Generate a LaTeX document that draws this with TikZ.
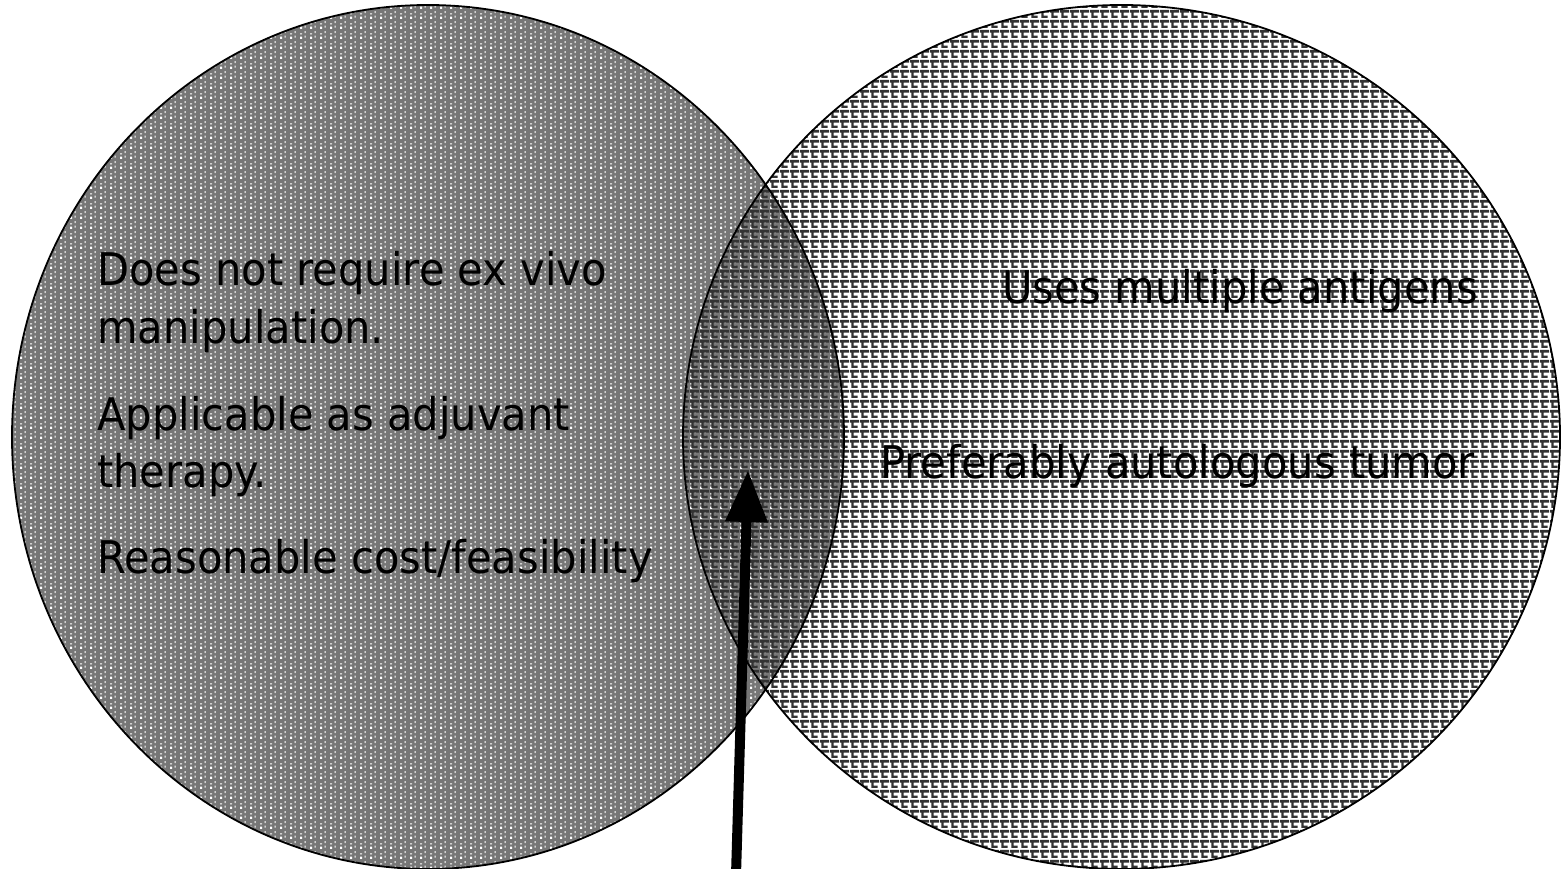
\documentclass[tikz,border=0pt]{standalone}
\usepackage{fontspec}
\setmainfont{DejaVu Sans}[FakeStretch=0.925]
\usetikzlibrary{patterns,arrows.meta}
\definecolor{leftgray}{HTML}{767676}
\definecolor{lpat}{HTML}{333333}
\pgfdeclarepatternformonly{dotcols}{\pgfqpoint{0pt}{0pt}}{\pgfqpoint{10pt}{10pt}}{\pgfqpoint{10pt}{10pt}}{
  \pgfpathrectangle{\pgfqpoint{0pt}{0pt}}{\pgfqpoint{2.4pt}{2.6pt}}
  \pgfpathrectangle{\pgfqpoint{0pt}{5pt}}{\pgfqpoint{2.4pt}{1.2pt}}
  \pgfpathrectangle{\pgfqpoint{5pt}{1.5pt}}{\pgfqpoint{1.1pt}{2.2pt}}
  \pgfpathrectangle{\pgfqpoint{5pt}{6.5pt}}{\pgfqpoint{1.1pt}{2.2pt}}
  \pgfusepath{fill}}
\pgfdeclarepatternformonly{lbricks}{\pgfqpoint{0pt}{0pt}}{\pgfqpoint{10pt}{10pt}}{\pgfqpoint{10pt}{10pt}}{
  \pgfpathrectangle{\pgfqpoint{0pt}{7pt}}{\pgfqpoint{10pt}{3pt}}
  \pgfpathrectangle{\pgfqpoint{1.5pt}{1.3pt}}{\pgfqpoint{2.6pt}{5.7pt}}
  \pgfpathrectangle{\pgfqpoint{1.5pt}{1.3pt}}{\pgfqpoint{6.8pt}{2.5pt}}
  \pgfusepath{fill}}
\tikzset{
  leftset/.style={preaction={fill=leftgray}, pattern=dotcols, pattern color=white},
  rightset/.style={pattern=lbricks, pattern color=lpat},
  outline/.style={draw=black, line width=1.8pt},
  lbl/.style={inner sep=0pt, font=\fontsize{45}{54}\selectfont, text=black},
  bigarrow/.style={line width=10pt, -{Triangle[width=40pt,length=52pt]}}
}
\begin{document}
\begin{tikzpicture}[x=1pt,y=-1pt]
\useasboundingbox (0,0) rectangle (1562,869);
\path[leftset] (428,437) ellipse [x radius=416, y radius=432];
\path[rightset] (1121.5,437) ellipse [x radius=438.5, y radius=432];
\path[outline] (428,437) ellipse [x radius=416, y radius=432];
\path[outline] (1121.5,437) ellipse [x radius=438.5, y radius=432];
\node[lbl, anchor=base west] (l1) at (97,285) {Does not require ex vivo};
\node[lbl, anchor=base west] (l2) at (97,343) {manipulation.};
\node[lbl, anchor=base west] (l3) at (97,430) {Applicable as adjuvant};
\node[lbl, anchor=base west] (l4) at (97,487) {therapy.};
\node[lbl, anchor=base west] (l5) at (97,573) {Reasonable cost/feasibility};
\node[lbl, anchor=base east] (r1) at (1478,303) {Uses multiple antigens};
\node[lbl, anchor=base east] (r2) at (1475,478) {Preferably autologous tumor};
\coordinate (tail) at (736,875);
\coordinate (tip) at (748,470);
\draw[bigarrow] (tail) -- (tip);
\end{tikzpicture}
\end{document}
